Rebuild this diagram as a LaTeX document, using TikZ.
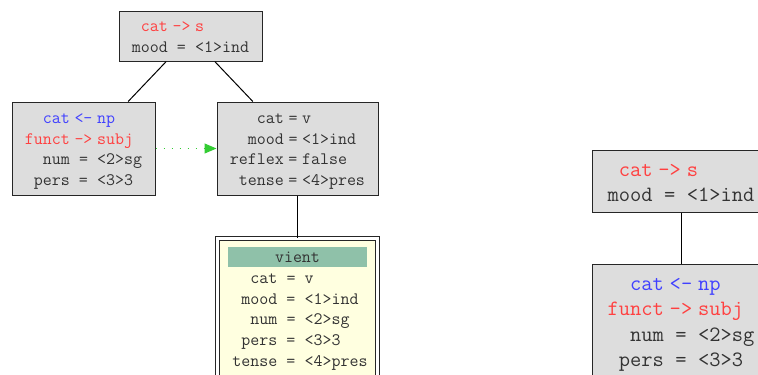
\documentclass[tikz,border=0pt]{standalone}
\usepackage{fontspec}
\usetikzlibrary{arrows.meta}

\definecolor{boxgray}{RGB}{221,221,221}
\definecolor{fsred}{RGB}{255,64,64}
\definecolor{fsblue}{RGB}{64,64,255}
\definecolor{fstext}{RGB}{51,51,51}
\definecolor{lexyellow}{RGB}{255,255,224}
\definecolor{lexgreen}{RGB}{143,193,169}
\definecolor{linkgreen}{RGB}{51,204,51}

\newcommand{\ra}{\kern.26em->\kern.26em}
\newcommand{\la}{\kern.26em<-\kern.26em}
\newcommand{\eqw}{\kern.525em=\kern.525em}
\newcommand{\eqn}{\kern.26em=\kern.26em}
\newcommand{\redrow}[3]{\textcolor{fsred}{#1}&\textcolor{fsred}{#2}&\textcolor{fsred}{#3}}
\newcommand{\bluerow}[3]{\textcolor{fsblue}{#1}&\textcolor{fsblue}{#2}&\textcolor{fsblue}{#3}}
% feature table, set a little low in its box
\newcommand{\avm}[2][-1.5pt]{\raisebox{#1}[\height][\depth]{\begin{tabular}{r@{}c@{}l}#2\end{tabular}}}

\begin{document}
\begin{tikzpicture}[x=0.75pt,y=-0.75pt,
		fs/.style={draw=black!85,line width=0.75pt,fill=boxgray,text=fstext,inner sep=0pt,
			font=\ttfamily\fontsize{13.1}{15.5}\selectfont},
		bigfs/.style={fs,font=\ttfamily\fontsize{16.4}{19}\selectfont},
		lex/.style={draw=black!85,line width=0.75pt,double=white,double distance=2.25pt,fill=lexyellow},
		lexhead/.style={fill=lexgreen,text=fstext,inner sep=0pt,font=\ttfamily\fontsize{13.1}{15.5}\selectfont},
		lexavm/.style={text=fstext,inner sep=0pt,font=\ttfamily\fontsize{13.1}{15.5}\selectfont},
		link/.style={linkgreen,line width=0.75pt,dash pattern=on 0.75pt off 5.25pt,
			-{Triangle[length=9pt,width=7.5pt]}}]
	\useasboundingbox (0,0) rectangle (758,375);
	\clip (0,0) rectangle (758,375);

	% left tree
	\node[fs,minimum width=107.25pt,minimum height=37.5pt] (s) at (190.5,36) {\avm{
		\redrow{cat}{\ra}{s}\\
		mood&\eqw&<1>ind}};
	\node[fs,minimum width=107.25pt,minimum height=69.75pt] (np) at (83.5,148.5) {\avm{
		\bluerow{cat}{\la}{np}\\
		\redrow{funct}{\ra}{subj}\\
		num&\eqw&<2>sg\\
		pers&\eqw&<3>3}};
	\node[fs,minimum width=120.75pt,minimum height=69.75pt] (v) at (297.5,148.5) {\avm{
		cat&\eqn&v\\
		mood&\eqn&<1>ind\\
		reflex&\eqn&false\\
		tense&\eqn&<4>pres}};

	% lexical entry
	\node[lex,minimum width=120pt,minimum height=108pt] (lex) at (297.5,310.5) {};
	\node[lexhead,minimum width=104.25pt,minimum height=15pt] (lexhead) at (297.5,257) {vient};
	\node[lexavm] (lexavm) at (300,319.5) {\avm[-1pt]{
		cat&\eqw&v\\
		mood&\eqw&<1>ind\\
		num&\eqw&<2>sg\\
		pers&\eqw&<3>3\\
		tense&\eqw&<4>pres}};

	\draw[line width=0.75pt] (s) -- (np);
	\draw[line width=0.75pt] (s) -- (v);
	\draw[line width=0.75pt] (v) -- (lex);
	\draw[link] (np) -- (v);

	% right tree
	\node[bigfs,minimum width=133.5pt,minimum height=46.5pt] (s2) at (681,181) {\avm[-2pt]{
		\redrow{cat}{\ra}{s}\\
		mood&\eqw&<1>ind}};
	\node[bigfs,minimum width=133.5pt,minimum height=87pt] (np2) at (681,322) {\avm[-1pt]{
		\bluerow{cat}{\la}{np}\\
		\redrow{funct}{\ra}{subj}\\
		num&\eqw&<2>sg\\
		pers&\eqw&<3>3}};

	\draw[line width=0.75pt] (s2) -- (np2);
\end{tikzpicture}
\end{document}
